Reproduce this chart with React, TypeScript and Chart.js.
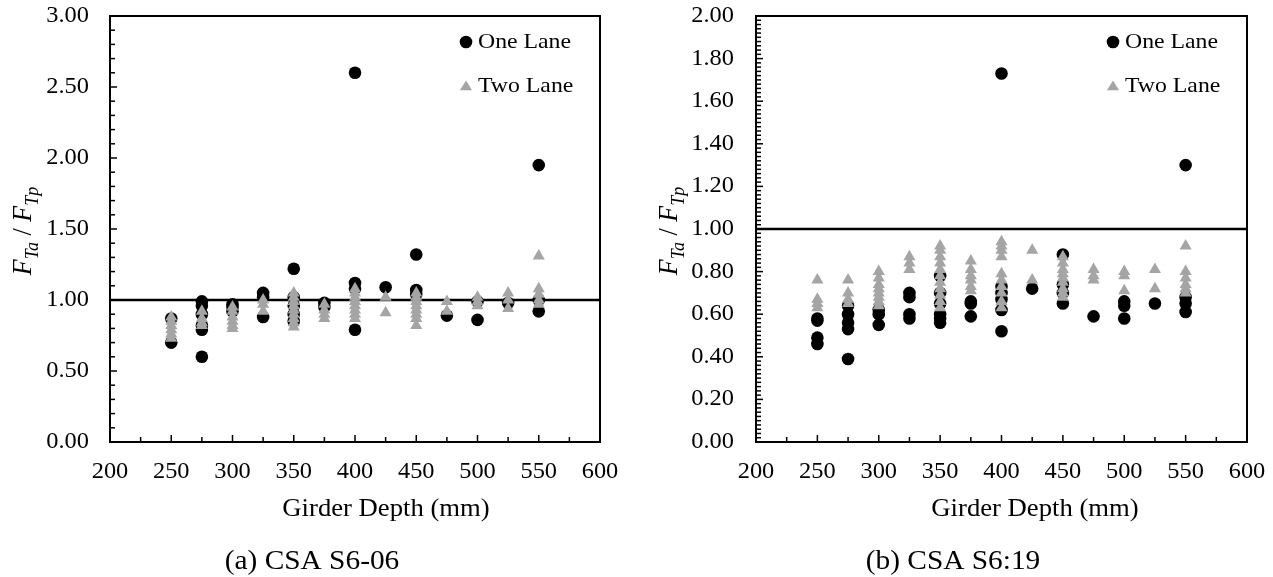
import React, { useEffect, useRef } from "react";
import { Chart, registerables } from "chart.js";

Chart.register(...registerables);

const FONT = '"Liberation Serif", "Times New Roman", serif';
const GRAY = "#a5a5a5";
const KX = 1.08; // slight horizontal text stretch seen in the reference

// ---- data ----
const girderDepths = [250, 275, 300, 325, 350, 375, 400, 425, 450, 475, 500, 525, 550];
const xTickLabels = [200, 250, 300, 350, 400, 450, 500, 550, 600];
const yTickLabelsA = [0, 0.5, 1.0, 1.5, 2.0, 2.5, 3.0];
const yTickLabelsB = [0, 0.2, 0.4, 0.6, 0.8, 1.0, 1.2, 1.4, 1.6, 1.8, 2.0];
const thresholdRatio = 1.0;

// (a) CSA S6-06 — values per girder depth (aligned with girderDepths)
const s606OneLane = [
  [0.87, 0.7],
  [0.99, 0.96, 0.9, 0.82, 0.79, 0.6],
  [0.97, 0.95, 0.92],
  [1.05, 1.02, 0.88],
  [1.22, 1.02, 0.96, 0.9, 0.85],
  [0.98, 0.95],
  [2.6, 1.12, 1.08, 0.79],
  [1.09],
  [1.32, 1.07, 1.04],
  [0.89],
  [0.99, 0.86],
  [0.98],
  [1.95, 1.0, 0.92],
];
const s606TwoLane = [
  [0.88, 0.85, 0.82, 0.79, 0.76, 0.73],
  [0.92, 0.87, 0.84, 0.82],
  [0.95, 0.92, 0.88, 0.85, 0.82, 0.8],
  [1.0, 0.97, 0.92],
  [1.05, 1.02, 0.99, 0.96, 0.93, 0.9, 0.87, 0.84, 0.81],
  [0.97, 0.93, 0.9, 0.87],
  [1.08, 1.05, 1.02, 0.99, 0.96, 0.93, 0.9, 0.87],
  [1.02, 0.91],
  [1.05, 1.02, 0.99, 0.96, 0.93, 0.9, 0.87, 0.82],
  [0.99, 0.92],
  [1.02, 0.99, 0.96],
  [1.05, 1.0, 0.94],
  [1.31, 1.08, 1.04, 1.0, 0.97],
];

// (b) CSA S6:19
const s619OneLane = [
  [0.58, 0.57, 0.49, 0.46],
  [0.64, 0.6, 0.56, 0.53, 0.39],
  [0.62, 0.6, 0.55],
  [0.7, 0.68, 0.6, 0.58],
  [0.78, 0.7, 0.65, 0.6, 0.58, 0.56],
  [0.66, 0.65, 0.59],
  [1.73, 0.73, 0.7, 0.67, 0.62, 0.52],
  [0.72],
  [0.88, 0.74, 0.7, 0.65],
  [0.59],
  [0.66, 0.64, 0.58],
  [0.65],
  [1.3, 0.68, 0.65, 0.61],
];
const s619TwoLane = [
  [0.76, 0.67, 0.65, 0.63],
  [0.76, 0.7, 0.67, 0.65],
  [0.8, 0.77, 0.74, 0.72, 0.7, 0.68, 0.66, 0.64],
  [0.87, 0.84, 0.81],
  [0.92, 0.9, 0.87, 0.84, 0.81, 0.78, 0.75, 0.72, 0.69, 0.66, 0.63],
  [0.85, 0.81, 0.78, 0.76, 0.73, 0.71],
  [0.94, 0.92, 0.9, 0.87, 0.79, 0.76, 0.73, 0.7, 0.66, 0.63],
  [0.9, 0.76],
  [0.87, 0.84, 0.81, 0.79, 0.77, 0.75, 0.72, 0.7, 0.68],
  [0.81, 0.78, 0.76],
  [0.8, 0.78, 0.71],
  [0.81, 0.72],
  [0.92, 0.8, 0.77, 0.74, 0.72, 0.7],
];

const toPoints = (vals: number[][]) =>
  girderDepths.flatMap((d, i) => vals[i].map((v) => ({ x: d, y: v })));

function sText(
  ctx: CanvasRenderingContext2D,
  text: string,
  x: number,
  y: number,
  size: number,
  align: "left" | "center" | "right",
  italic = false
) {
  ctx.save();
  ctx.font = `${italic ? "italic " : ""}${size}px ${FONT}`;
  ctx.textBaseline = "middle";
  ctx.textAlign = "left";
  const w = ctx.measureText(text).width * KX;
  const left = align === "center" ? x - w / 2 : align === "right" ? x - w : x;
  ctx.translate(left, y);
  ctx.scale(KX, 1);
  ctx.fillText(text, 0, 0);
  ctx.restore();
}

// ---- decoration plugin ----
const decorPlugin = {
  id: "decor",
  afterDraw(chart: any, _args: any, o: any) {
    const { ctx, chartArea: a, scales } = chart;
    const x = scales.x;
    const y = scales.y;
    ctx.save();
    ctx.strokeStyle = "#000";
    ctx.fillStyle = "#000";

    // inside tick marks
    ctx.lineWidth = 1.5;
    const nx = Math.round((x.max - x.min) / o.xMinor);
    for (let i = 0; i <= nx; i++) {
      const v = x.min + i * o.xMinor;
      const px = x.getPixelForValue(v);
      const major = Math.abs(v / o.xMajor - Math.round(v / o.xMajor)) < 1e-6;
      const len = major ? 7 : 5;
      ctx.beginPath();
      ctx.moveTo(px, a.bottom);
      ctx.lineTo(px, a.bottom - len);
      ctx.stroke();
    }
    const ny = Math.round((y.max - y.min) / o.yMinor);
    for (let i = 0; i <= ny; i++) {
      const v = y.min + i * o.yMinor;
      const py = y.getPixelForValue(v);
      const major = Math.abs(v / o.yMajor - Math.round(v / o.yMajor)) < 1e-6;
      const len = major ? 7 : 5;
      ctx.beginPath();
      ctx.moveTo(a.left, py);
      ctx.lineTo(a.left + len, py);
      ctx.stroke();
    }

    // plot frame
    ctx.lineWidth = 2;
    ctx.strokeRect(a.left, a.top, a.right - a.left, a.bottom - a.top);

    // tick labels (from the scales' own ticks)
    ctx.fillStyle = "#000";
    x.ticks.forEach((t: any) => {
      sText(ctx, String(t.value), x.getPixelForValue(t.value), a.bottom + 30, 22.6, "center");
    });
    y.ticks.forEach((t: any) => {
      sText(ctx, Number(t.value).toFixed(2), a.left - o.yLabelPad, y.getPixelForValue(t.value), 22.6, "right");
    });

    // legend
    const lx = a.right - 134;
    const ly1 = a.top + 26;
    const ly2 = a.top + 70;
    ctx.fillStyle = "#000";
    ctx.beginPath();
    ctx.arc(lx, ly1, 6.3, 0, Math.PI * 2);
    ctx.fill();
    ctx.fillStyle = GRAY;
    const r = 7;
    ctx.beginPath();
    ctx.moveTo(lx, ly2 - r * 0.8);
    ctx.lineTo(lx + r * 0.866, ly2 + r * 0.6);
    ctx.lineTo(lx - r * 0.866, ly2 + r * 0.6);
    ctx.closePath();
    ctx.fill();
    ctx.fillStyle = "#000";
    sText(ctx, "One Lane", lx + 12, ly1, 22, "left");
    sText(ctx, "Two Lane", lx + 12, ly2, 22, "left");

    // x-axis title and caption
    sText(ctx, "Girder Depth (mm)", o.xTitleX, 510, 24.7, "center");
    sText(ctx, o.caption, o.captionX, 562, 27.2, "center");

    // y-axis title: F_{Ta} / F_{Tp}
    const parts = [
      { t: "F", s: 26, it: true, dy: 0 },
      { t: "Ta", s: 18, it: true, dy: 6 },
      { t: " / ", s: 26, it: false, dy: 0 },
      { t: "F", s: 26, it: true, dy: 0 },
      { t: "Tp", s: 18, it: true, dy: 6 },
    ];
    let total = 0;
    const widths = parts.map((p) => {
      ctx.font = `${p.it ? "italic " : ""}${p.s}px ${FONT}`;
      const w = ctx.measureText(p.t).width;
      total += w;
      return w;
    });
    ctx.save();
    ctx.translate(a.left - o.yTitleOffset, (a.top + a.bottom) / 2 + 2);
    ctx.rotate(-Math.PI / 2);
    ctx.scale(1, KX);
    ctx.textAlign = "left";
    ctx.textBaseline = "alphabetic";
    let cx = -total / 2;
    parts.forEach((p, i) => {
      ctx.font = `${p.it ? "italic " : ""}${p.s}px ${FONT}`;
      ctx.fillText(p.t, cx, 8.5 + p.dy);
      cx += widths[i];
    });
    ctx.restore();

    ctx.restore();
  },
};

type PanelProps = {
  left: number;
  width: number;
  axisWidth: number;
  padRight: number;
  yMax: number;
  yTicks: number[];
  yMinor: number;
  yMajor: number;
  one: number[][];
  two: number[][];
  caption: string;
  captionX: number;
  xTitleX: number;
  yLabelPad: number;
};

function Panel(p: PanelProps) {
  const ref = useRef<HTMLCanvasElement>(null);
  useEffect(() => {
    const chart = new Chart(ref.current as HTMLCanvasElement, {
      type: "scatter",
      data: {
        datasets: [
          {
            label: "Two Lane",
            data: toPoints(p.two),
            pointStyle: "triangle",
            pointRadius: 7,
            pointBorderWidth: 0,
            backgroundColor: GRAY,
            borderColor: GRAY,
            order: 1,
          },
          {
            label: "One Lane",
            data: toPoints(p.one),
            pointStyle: "circle",
            pointRadius: 6.3,
            pointBorderWidth: 0,
            backgroundColor: "#000",
            borderColor: "#000",
            order: 2,
          },
          {
            type: "line",
            label: "limit",
            data: [
              { x: xTickLabels[0], y: thresholdRatio },
              { x: xTickLabels[xTickLabels.length - 1], y: thresholdRatio },
            ],
            borderColor: "#000",
            borderWidth: 2.5,
            pointRadius: 0,
            showLine: true,
            order: 3,
          } as any,
        ],
      },
      options: {
        animation: false,
        responsive: false,
        maintainAspectRatio: false,
        layout: { padding: { top: 16, right: p.padRight, left: 0, bottom: 0 } },
        plugins: {
          legend: { display: false },
          tooltip: { enabled: false },
          decor: {
            xMinor: 25,
            xMajor: 50,
            yMinor: p.yMinor,
            yMajor: p.yMajor,
            caption: p.caption,
            captionX: p.captionX,
            xTitleX: p.xTitleX,
            yTitleOffset: 88,
            yLabelPad: p.yLabelPad,
          },
        } as any,
        scales: {
          x: {
            type: "linear",
            min: xTickLabels[0],
            max: xTickLabels[xTickLabels.length - 1],
            afterBuildTicks: (s: any) => {
              s.ticks = xTickLabels.map((v) => ({ value: v }));
            },
            ticks: { display: false },
            grid: { display: false, drawTicks: false },
            border: { display: false },
            afterFit: (s: any) => {
              s.height = 135;
              s.paddingLeft = 0;
              s.paddingRight = 0;
              s.paddingTop = 0;
              s.paddingBottom = 0;
            },
          },
          y: {
            type: "linear",
            min: 0,
            max: p.yMax,
            afterBuildTicks: (s: any) => {
              s.ticks = p.yTicks.map((v) => ({ value: v }));
            },
            ticks: { display: false },
            grid: { display: false, drawTicks: false },
            border: { display: false },
            afterFit: (s: any) => {
              s.width = p.axisWidth;
              s.paddingLeft = 0;
              s.paddingRight = 0;
              s.paddingTop = 0;
              s.paddingBottom = 0;
            },
          },
        },
      },
      plugins: [decorPlugin as any],
    });
    return () => chart.destroy();
  }, []);
  return (
    <div style={{ position: "absolute", left: p.left, top: 0, width: p.width, height: 577 }}>
      <canvas ref={ref} width={p.width} height={577} style={{ width: p.width, height: 577 }} />
    </div>
  );
}

export default function App() {
  return (
    <div style={{ position: "fixed", left: 0, top: 0, width: 1273, height: 577, background: "#fff" }}>
      <Panel
        left={0}
        width={636}
        axisWidth={110}
        padRight={36}
        yMax={3}
        yTicks={yTickLabelsA}
        yMinor={0.1}
        yMajor={0.5}
        one={s606OneLane}
        two={s606TwoLane}
        caption="(a) CSA S6-06"
        captionX={312}
        xTitleX={386}
        yLabelPad={21}
      />
      <Panel
        left={636}
        width={637}
        axisWidth={120}
        padRight={26}
        yMax={2}
        yTicks={yTickLabelsB}
        yMinor={0.02}
        yMajor={0.2}
        one={s619OneLane}
        two={s619TwoLane}
        caption="(b) CSA S6:19"
        captionX={317}
        xTitleX={399}
        yLabelPad={22}
      />
    </div>
  );
}
